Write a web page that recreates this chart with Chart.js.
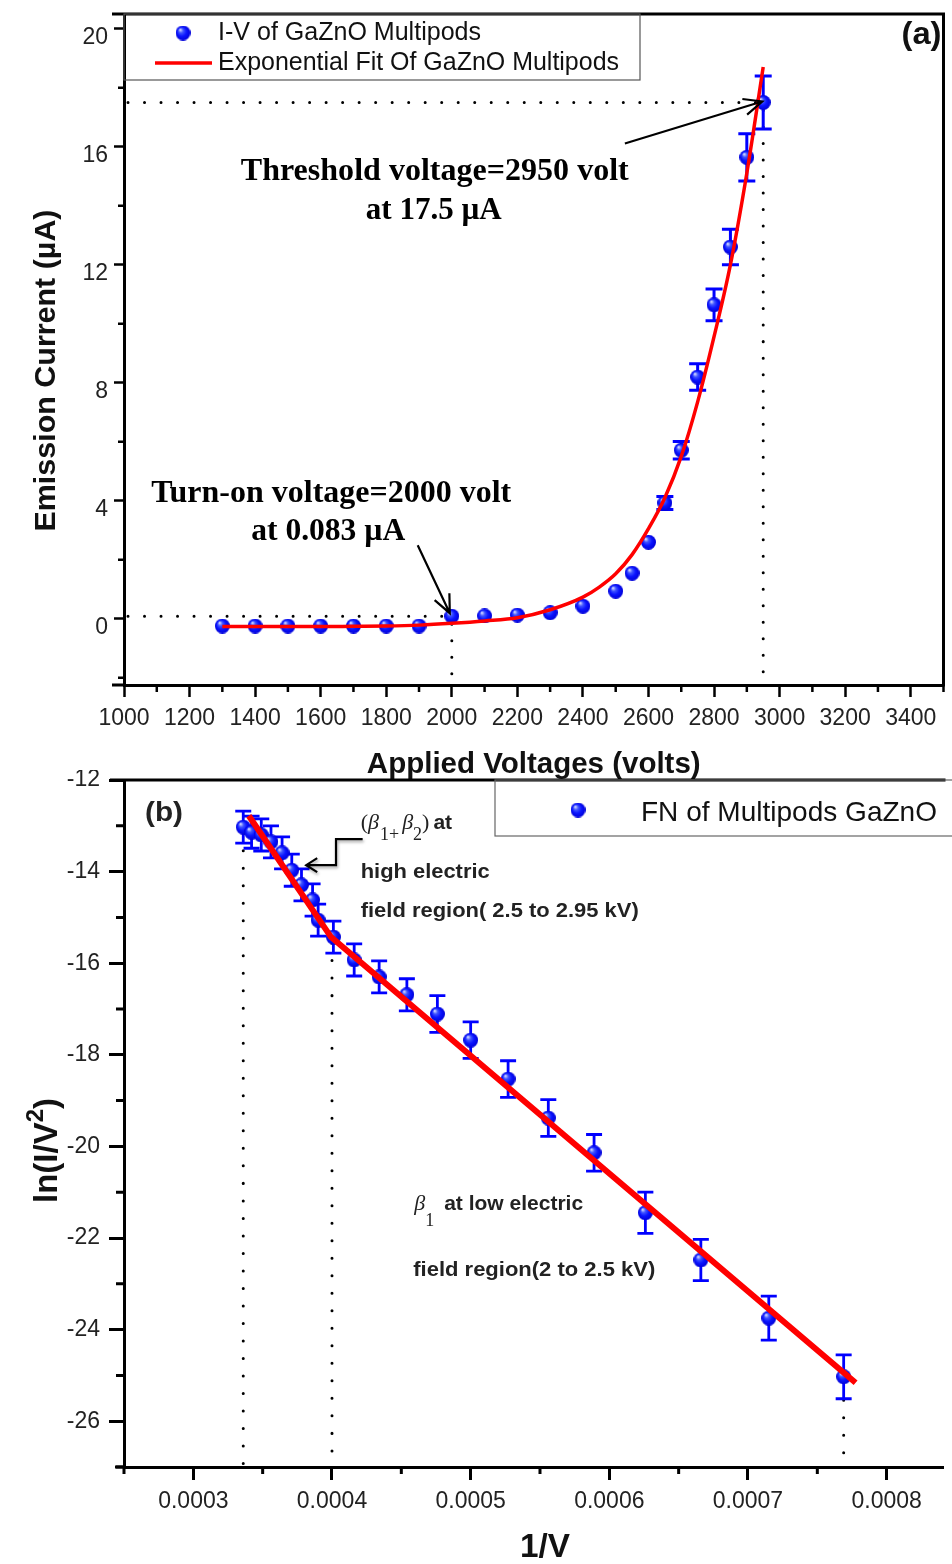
<!DOCTYPE html>
<html>
<head>
<meta charset="utf-8">
<title>GaZnO multipods field emission</title>
<script src="https://cdn.jsdelivr.net/npm/chart.js@4.4.1/dist/chart.umd.min.js"></script>
<style>
  html, body { margin: 0; padding: 0; background: #ffffff; }
  body { width: 952px; height: 1564px; position: relative; overflow: hidden; }
  canvas { position: absolute; left: 0; }
  #ivChart { top: 0; }
  #fnChart { top: 770px; }
</style>
</head>
<body>
<canvas id="ivChart" width="952" height="790"></canvas>
<canvas id="fnChart" width="952" height="794"></canvas>
<script>
// ---------- (a) emission current vs applied voltage ----------
const ivVoltage = [1300, 1400, 1500, 1600, 1700, 1800, 1900, 2000, 2100, 2200, 2300, 2400, 2500, 2550, 2600, 2650, 2700, 2750, 2800, 2850, 2900, 2950];
const ivCurrent = [-0.25, -0.25, -0.25, -0.25, -0.25, -0.25, -0.25, 0.083, 0.09, 0.12, 0.2, 0.42, 0.93, 1.54, 2.59, 3.92, 5.71, 8.19, 10.64, 12.6, 15.64, 17.5];
const ivError   = [0, 0, 0, 0, 0, 0, 0, 0, 0, 0, 0, 0, 0, 0, 0, 0.22, 0.3, 0.45, 0.54, 0.6, 0.8, 0.9];
const ivFitVoltage = [1300, 1400, 1500, 1600, 1700, 1800, 1900, 2000, 2100, 2200, 2300, 2400, 2450, 2500, 2550, 2600, 2650, 2700, 2750, 2800, 2850, 2900, 2950];
const ivFitCurrent = [-0.27, -0.27, -0.27, -0.27, -0.26, -0.25, -0.22, -0.16, -0.08, 0.03, 0.3, 0.73, 1.07, 1.52, 2.17, 3.05, 4.1, 5.5, 7.35, 9.56, 12.0, 15.1, 18.7];
const ivXTicks = [1000, 1200, 1400, 1600, 1800, 2000, 2200, 2400, 2600, 2800, 3000, 3200, 3400];
const ivXMinor = [1100, 1300, 1500, 1700, 1900, 2100, 2300, 2500, 2700, 2900, 3100, 3300, 3500];
const ivYTicks = [0, 4, 8, 12, 16, 20];
const ivYMinor = [-2, 2, 6, 10, 14, 18];
const turnOn    = { voltage: 2000, current: 0.083 };
const threshold = { voltage: 2950, current: 17.5 };

// ---------- (b) Fowler-Nordheim plot ----------
const fnInvV = [0.000336, 0.000342, 0.000349, 0.000356, 0.000364, 0.000371, 0.000378, 0.000386, 0.000390, 0.000401,
                0.000416, 0.000434, 0.000454, 0.000476, 0.000500, 0.000527, 0.000556, 0.000589, 0.000626, 0.000666, 0.000715, 0.000769];
const fnLn   = [-13.03, -13.14, -13.20, -13.35, -13.59, -13.97, -14.29, -14.62, -15.06, -15.43,
                -15.93, -16.30, -16.69, -17.11, -17.68, -18.53, -19.38, -20.14, -21.45, -22.48, -23.75, -25.03];
const fnError = [0.35, 0.35, 0.35, 0.35, 0.35, 0.35, 0.35, 0.35, 0.35, 0.35,
                 0.35, 0.35, 0.35, 0.4, 0.4, 0.4, 0.4, 0.4, 0.45, 0.45, 0.48, 0.48];
const fnFitInvV = [0.000340, 0.0003993, 0.0007776];
const fnFitLn   = [-12.78, -15.43, -25.16];
const fnXTicks = [0.0003, 0.0004, 0.0005, 0.0006, 0.0007, 0.0008];
const fnXTickLabels = ['0.0003', '0.0004', '0.0005', '0.0006', '0.0007', '0.0008'];
const fnXMinor = [0.00025, 0.00035, 0.00045, 0.00055, 0.00065, 0.00075];
const fnYTicks = [-26, -24, -22, -20, -18, -16, -14, -12];
const fnYMinor = [-27, -25, -23, -21, -19, -17, -15, -13];
const fnGuides = [0.000336, 0.0004, 0.000769];
const fnGuideLn = [-13.03, -15.43, -25.03];

// ---------- shared helpers ----------
const SANS = "'Liberation Sans', Arial, sans-serif";
const SERIF = "'Liberation Serif', 'Times New Roman', serif";
Chart.defaults.font.family = SANS;
Chart.defaults.color = '#222';

function sphere(d) {
  const c = document.createElement('canvas');
  c.width = d; c.height = d;
  const g = c.getContext('2d');
  const r = d / 2;
  const grad = g.createRadialGradient(r * 0.62, r * 0.55, 0.4, r, r, r);
  grad.addColorStop(0, '#d8dcff');
  grad.addColorStop(0.28, '#4055ff');
  grad.addColorStop(0.6, '#0a14ff');
  grad.addColorStop(1, '#0000d8');
  g.fillStyle = grad;
  g.beginPath(); g.arc(r, r, r, 0, Math.PI * 2); g.fill();
  return c;
}
const dotA = sphere(15);
const dotB = sphere(15);

const pts = (xs, ys) => xs.map((v, i) => ({ x: v, y: ys[i] }));

function fixedSize(size, key) {
  return s => {
    s[key] = size;
    s.paddingTop = 0; s.paddingBottom = 0; s.paddingLeft = 0; s.paddingRight = 0;
  };
}
const setTicks = values => s => { s.ticks = values.map(v => ({ value: v })); };

function minorTicks(ctx, scale, values, len, width) {
  ctx.save();
  ctx.strokeStyle = '#000'; ctx.lineWidth = width;
  ctx.beginPath();
  values.forEach(v => {
    const p = scale.getPixelForValue(v);
    if (scale.isHorizontal()) { ctx.moveTo(p, scale.top); ctx.lineTo(p, scale.top + len); }
    else { ctx.moveTo(scale.right, p); ctx.lineTo(scale.right - len, p); }
  });
  ctx.stroke();
  ctx.restore();
}

function errorBars(ctx, sx, sy, xs, ys, errs, cap, width) {
  ctx.save();
  ctx.strokeStyle = '#0000ff'; ctx.lineWidth = width; ctx.lineCap = 'butt';
  xs.forEach((v, i) => {
    if (!errs[i]) return;
    const px = sx.getPixelForValue(v);
    const top = sy.getPixelForValue(ys[i] + errs[i]);
    const bot = sy.getPixelForValue(ys[i] - errs[i]);
    ctx.beginPath();
    ctx.moveTo(px, top); ctx.lineTo(px, bot);
    ctx.moveTo(px - cap / 2, top); ctx.lineTo(px + cap / 2, top);
    ctx.moveTo(px - cap / 2, bot); ctx.lineTo(px + cap / 2, bot);
    ctx.stroke();
  });
  ctx.restore();
}

function dotted(ctx, x1, y1, x2, y2, gap) {
  ctx.save();
  ctx.strokeStyle = '#000'; ctx.lineWidth = 3; ctx.lineCap = 'round';
  ctx.setLineDash([0.01, gap]);
  ctx.beginPath(); ctx.moveTo(x1, y1); ctx.lineTo(x2, y2); ctx.stroke();
  ctx.restore();
}

function arrow(ctx, x1, y1, x2, y2, head, width) {
  const a = Math.atan2(y2 - y1, x2 - x1);
  ctx.save();
  ctx.strokeStyle = '#000'; ctx.lineWidth = width; ctx.lineJoin = 'miter';
  ctx.beginPath();
  ctx.moveTo(x1, y1); ctx.lineTo(x2, y2);
  ctx.moveTo(x2 - head * Math.cos(a - 0.42), y2 - head * Math.sin(a - 0.42));
  ctx.lineTo(x2, y2);
  ctx.lineTo(x2 - head * Math.cos(a + 0.42), y2 - head * Math.sin(a + 0.42));
  ctx.stroke();
  ctx.restore();
}

// text squeezed or stretched to an exact width
function fitText(ctx, text, x, y, font, width, align, color) {
  ctx.save();
  ctx.font = font; ctx.fillStyle = color || '#000'; ctx.textBaseline = 'middle'; ctx.textAlign = 'left';
  const w = ctx.measureText(text).width;
  const k = width ? width / w : 1;
  const left = align === 'center' ? x - (w * k) / 2 : align === 'right' ? x - w * k : x;
  ctx.translate(left, y); ctx.scale(k, 1);
  ctx.fillText(text, 0, 0);
  ctx.restore();
}

// text made of runs with their own fonts and vertical shifts
function runs(ctx, parts, x, y, color) {
  ctx.save();
  ctx.fillStyle = color || '#000'; ctx.textBaseline = 'alphabetic'; ctx.textAlign = 'left';
  let cx = x;
  parts.forEach(p => {
    ctx.font = p.font;
    ctx.fillText(p.t, cx, y + (p.dy || 0));
    cx += ctx.measureText(p.t).width + (p.dx || 0);
  });
  ctx.restore();
}

function runsWidth(ctx, parts) {
  let w = 0;
  ctx.save();
  parts.forEach(p => { ctx.font = p.font; w += ctx.measureText(p.t).width + (p.dx || 0); });
  ctx.restore();
  return w;
}

// ---------- (a) chart ----------
const ivDecor = {
  id: 'ivDecor',
  beforeDatasetsDraw(chart) {
    const { ctx, chartArea: ca, scales: { x, y } } = chart;
    const tx = x.getPixelForValue(threshold.voltage), ty = y.getPixelForValue(threshold.current);
    const ox = x.getPixelForValue(turnOn.voltage), oy = y.getPixelForValue(turnOn.current);
    dotted(ctx, ca.left + 4, ty, tx - 4, ty, 16.5);
    dotted(ctx, tx, ty + 8, tx, ca.bottom, 16.5);
    dotted(ctx, ca.left + 4, oy, ox, oy, 16.5);
    dotted(ctx, ox, oy + 8, ox, ca.bottom, 16.5);
    errorBars(ctx, x, y, ivVoltage, ivCurrent, ivError, 17, 3);
  },
  afterDraw(chart) {
    const { ctx, chartArea: ca, scales: { x, y } } = chart;
    minorTicks(ctx, x, ivXMinor, 7, 2.5);
    minorTicks(ctx, y, ivYMinor, 6, 2.5);
    // frame
    ctx.save();
    ctx.strokeStyle = '#000'; ctx.lineWidth = 3;
    ctx.beginPath();
    ctx.moveTo(ca.left - 12, ca.top); ctx.lineTo(ca.right + 1.5, ca.top);
    ctx.moveTo(ca.right, ca.top); ctx.lineTo(ca.right, ca.bottom + 1.5);
    ctx.moveTo(ca.left - 12, ca.bottom); ctx.lineTo(ca.left, ca.bottom);
    ctx.stroke();
    ctx.restore();
    // y title
    ctx.save();
    ctx.translate(47, (ca.top + ca.bottom) / 2 + 21);
    ctx.rotate(-Math.PI / 2);
    fitText(ctx, 'Emission Current (\u00b5A)', 0, 0, 'bold 30px ' + SANS, 322, 'center', '#111');
    ctx.restore();
    // legend
    ctx.save();
    ctx.strokeStyle = '#555'; ctx.lineWidth = 1.2;
    ctx.strokeRect(ca.left, ca.top, 516, 66);
    ctx.drawImage(dotA, 183 - 7.5, ca.top + 19 - 7.5);
    ctx.strokeStyle = '#ff0000'; ctx.lineWidth = 3.5;
    ctx.beginPath(); ctx.moveTo(155, ca.top + 49); ctx.lineTo(212, ca.top + 49); ctx.stroke();
    ctx.restore();
    fitText(ctx, 'I-V of GaZnO Multipods', 218, ca.top + 19, '25px ' + SANS, 263, 'left', '#111');
    fitText(ctx, 'Exponential Fit Of GaZnO Multipods', 218, ca.top + 49, '25px ' + SANS, 401, 'left', '#111');
    // panel letter
    fitText(ctx, '(a)', ca.right - 2, ca.top + 21, 'bold 31px ' + SANS, 40, 'right', '#111');
    // annotations
    const tx = x.getPixelForValue(threshold.voltage), ty = y.getPixelForValue(threshold.current);
    const ox = x.getPixelForValue(turnOn.voltage), oy = y.getPixelForValue(turnOn.current);
    arrow(ctx, x.getPixelForValue(2528), y.getPixelForValue(16.11), tx - 1, ty - 1, 20, 2.2);
    arrow(ctx, x.getPixelForValue(1896), y.getPixelForValue(2.49), ox - 2, oy - 3, 20, 2.2);
    fitText(ctx, 'Threshold voltage=2950 volt', x.getPixelForValue(1948), y.getPixelForValue(15.15), 'bold 32px ' + SERIF, 388, 'center', '#000');
    fitText(ctx, 'at 17.5 \u00b5A', x.getPixelForValue(1945), y.getPixelForValue(13.83), 'bold 32px ' + SERIF, 136, 'center', '#000');
    fitText(ctx, 'Turn-on voltage=2000 volt', x.getPixelForValue(1632), y.getPixelForValue(4.22), 'bold 32px ' + SERIF, 360, 'center', '#000');
    fitText(ctx, 'at 0.083 \u00b5A', x.getPixelForValue(1623), y.getPixelForValue(2.93), 'bold 32px ' + SERIF, 154, 'center', '#000');
  }
};

new Chart(document.getElementById('ivChart'), {
  type: 'scatter',
  data: {
    datasets: [
      {
        type: 'line',
        label: 'Exponential Fit Of GaZnO Multipods',
        data: pts(ivFitVoltage, ivFitCurrent),
        borderColor: '#ff0000', borderWidth: 3.5,
        pointRadius: 0, fill: false,
        cubicInterpolationMode: 'monotone',
        order: 0
      },
      {
        label: 'I-V of GaZnO Multipods',
        data: pts(ivVoltage, ivCurrent),
        pointStyle: dotA, pointRadius: 7.5,
        backgroundColor: '#0000ff', borderColor: '#0000ff',
        order: 1
      }
    ]
  },
  options: {
    responsive: false, animation: false, events: [], devicePixelRatio: 1,
    layout: { padding: { left: 0, right: 5, top: 14, bottom: 0 } },
    plugins: { legend: { display: false }, tooltip: { enabled: false } },
    scales: {
      x: {
        type: 'linear', min: 1000, max: 3500,
        afterBuildTicks: setTicks(ivXTicks),
        afterFit: fixedSize(105, 'height'),
        ticks: { font: { size: 23 }, color: '#222', padding: 8, maxRotation: 0, autoSkip: false,
                 callback: v => String(v) },
        grid: { drawOnChartArea: false, drawTicks: true, tickLength: 12, tickWidth: 2.5, tickColor: '#000' },
        border: { display: true, color: '#000', width: 3 },
        title: { display: true, text: 'Applied Voltages (volts)', color: '#111',
                 font: { size: 29.5, weight: 'bold' }, padding: { top: 0, bottom: 7 } }
      },
      y: {
        type: 'linear', min: -2.25, max: 20.5,
        afterBuildTicks: setTicks(ivYTicks),
        afterFit: fixedSize(124, 'width'),
        ticks: { font: { size: 23 }, color: '#222', padding: 6, autoSkip: false, labelOffset: 9,
                 callback: v => String(v) },
        grid: { drawOnChartArea: false, drawTicks: true, tickLength: 10, tickWidth: 2.5, tickColor: '#000' },
        border: { display: true, color: '#000', width: 3 },
        title: { display: false }
      }
    }
  },
  plugins: [ivDecor]
});

// ---------- (b) chart ----------
const fnDecor = {
  id: 'fnDecor',
  beforeDatasetsDraw(chart) {
    const { ctx, chartArea: ca, scales: { x, y } } = chart;
    fnGuides.forEach((g, i) => {
      dotted(ctx, x.getPixelForValue(g), y.getPixelForValue(fnGuideLn[i]) + 6, x.getPixelForValue(g), ca.bottom, 17.5);
    });
    errorBars(ctx, x, y, fnInvV, fnLn, fnError, 16, 2.8);
  },
  afterDraw(chart) {
    const { ctx, chartArea: ca, scales: { x, y } } = chart;
    minorTicks(ctx, x, fnXMinor, 7, 3);
    minorTicks(ctx, y, fnYMinor, 8, 3);
    ctx.save();
    ctx.strokeStyle = '#000'; ctx.lineWidth = 3;
    ctx.beginPath();
    ctx.moveTo(ca.left - 14, ca.top); ctx.lineTo(ca.right + 2, ca.top);
    ctx.moveTo(ca.left - 9, ca.bottom); ctx.lineTo(ca.left, ca.bottom);
    ctx.stroke();
    // legend
    ctx.strokeStyle = '#666'; ctx.lineWidth = 1.2;
    ctx.strokeRect(495, ca.top, 470, 56);
    ctx.drawImage(dotB, 578 - 7.5, ca.top + 30 - 7.5);
    ctx.restore();
    fitText(ctx, 'FN of Multipods GaZnO', 641, ca.top + 33, '28px ' + SANS, 296, 'left', '#111');
    // panel letter
    fitText(ctx, '(b)', 145, ca.top + 33, 'bold 28px ' + SANS, 38, 'left', '#222');
    // x title
    fitText(ctx, '1/V', 545, chart.height - 16, 'bold 33px ' + SANS, 50, 'center', '#111');
    // y title with superscript
    const titleParts = [
      { t: 'ln(I/V', font: 'bold 33px ' + SANS },
      { t: '2', font: 'bold 24px ' + SANS, dy: -14 },
      { t: ')', font: 'bold 33px ' + SANS }
    ];
    const tw = runsWidth(ctx, titleParts);
    ctx.save();
    ctx.translate(57, (ca.top + ca.bottom) / 2 + 27);
    ctx.rotate(-Math.PI / 2);
    runs(ctx, titleParts, -tw / 2, 0, '#111');
    ctx.restore();
    // high-field annotation
    const hx = x.getPixelForValue(0.0004207);
    runs(ctx, [
      { t: '(', font: '22px ' + SERIF },
      { t: '\u03b2', font: 'italic 22px ' + SERIF, dx: 1 },
      { t: '1+', font: '18px ' + SERIF, dy: 11, dx: 3 },
      { t: '\u03b2', font: 'italic 22px ' + SERIF },
      { t: '2', font: '18px ' + SERIF, dy: 11 },
      { t: ')', font: '22px ' + SERIF, dx: 4 },
      { t: 'at', font: 'bold 21px ' + SANS }
    ], hx, y.getPixelForValue(-13.08), '#222');
    fitText(ctx, 'high electric', hx, y.getPixelForValue(-14.01), 'bold 21px ' + SANS, 129, 'left', '#222');
    fitText(ctx, 'field region( 2.5 to 2.95 kV)', hx, y.getPixelForValue(-14.86), 'bold 21px ' + SANS, 278, 'left', '#222');
    // bent pointer to the high-field segment
    const bx = [0.0004221, 0.0004029, 0.0004029, 0.0003814].map(v => x.getPixelForValue(v));
    const by = [-13.29, -13.29, -13.86, -13.86].map(v => y.getPixelForValue(v));
    ctx.save();
    ctx.strokeStyle = '#000'; ctx.lineWidth = 2.2;
    ctx.shadowColor = 'rgba(0,0,0,0.35)'; ctx.shadowBlur = 3; ctx.shadowOffsetX = 1; ctx.shadowOffsetY = 2;
    ctx.beginPath();
    ctx.moveTo(bx[0], by[0]); ctx.lineTo(bx[1], by[1]); ctx.lineTo(bx[2], by[2]); ctx.lineTo(bx[3], by[3]);
    ctx.moveTo(bx[3] + 11, by[3] - 7); ctx.lineTo(bx[3], by[3]); ctx.lineTo(bx[3] + 11, by[3] + 7);
    ctx.stroke();
    ctx.restore();
    // low-field annotation
    const lx = x.getPixelForValue(0.0004593);
    runs(ctx, [
      { t: '\u03b2', font: 'italic 22px ' + SERIF },
      { t: '1', font: '18px ' + SERIF, dy: 16, dx: 10 },
      { t: 'at low electric', font: 'bold 21px ' + SANS }
    ], lx, y.getPixelForValue(-21.24) + 7, '#222');
    fitText(ctx, 'field region(2 to 2.5 kV)', x.getPixelForValue(0.0004586), y.getPixelForValue(-22.70), 'bold 21px ' + SANS, 242, 'left', '#222');
  }
};

new Chart(document.getElementById('fnChart'), {
  type: 'scatter',
  data: {
    datasets: [
      {
        type: 'line',
        label: 'FN fit',
        data: pts(fnFitInvV, fnFitLn),
        borderColor: '#ff0000', borderWidth: 6,
        pointRadius: 0, fill: false, tension: 0,
        order: 0
      },
      {
        label: 'FN of Multipods GaZnO',
        data: pts(fnInvV, fnLn),
        pointStyle: dotB, pointRadius: 7.5,
        backgroundColor: '#0000ff', borderColor: '#0000ff',
        order: 1
      }
    ]
  },
  options: {
    responsive: false, animation: false, events: [], devicePixelRatio: 1,
    layout: { padding: { left: 0, right: 0, top: 10, bottom: 0 } },
    plugins: { legend: { display: false }, tooltip: { enabled: false } },
    scales: {
      x: {
        type: 'linear', min: 0.00025, max: 0.000841,
        afterBuildTicks: setTicks(fnXTicks),
        afterFit: fixedSize(97, 'height'),
        ticks: { font: { size: 23 }, color: '#222', padding: 8, maxRotation: 0, autoSkip: false,
                 callback: v => fnXTickLabels[fnXTicks.findIndex(t => Math.abs(t - v) < 1e-9)] },
        grid: { drawOnChartArea: false, drawTicks: true, tickLength: 13, tickWidth: 3, tickColor: '#000' },
        border: { display: true, color: '#000', width: 3 },
        title: { display: false }
      },
      y: {
        type: 'linear', min: -27, max: -12,
        afterBuildTicks: setTicks(fnYTicks),
        afterFit: fixedSize(124, 'width'),
        ticks: { font: { size: 23 }, color: '#222', padding: 9, autoSkip: false },
        grid: { drawOnChartArea: false, drawTicks: true, tickLength: 15, tickWidth: 3, tickColor: '#000' },
        border: { display: true, color: '#000', width: 3 },
        title: { display: false }
      }
    }
  },
  plugins: [fnDecor]
});
</script>
</body>
</html>
